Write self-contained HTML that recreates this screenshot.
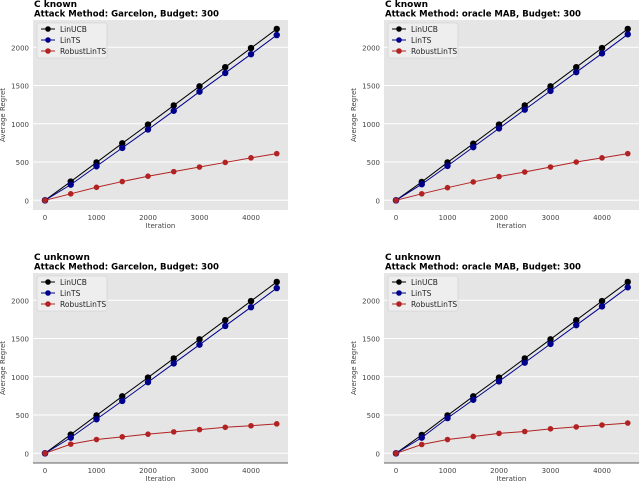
<!DOCTYPE html>
<html><head><meta charset="utf-8">
<style>
html,body{margin:0;padding:0;background:#fff;width:640px;height:482px;overflow:hidden}
svg{display:block}
text{font-family:"DejaVu Sans","Liberation Sans",sans-serif}
</style></head>
<body>
<svg id="chart" width="640" height="482" xmlns="http://www.w3.org/2000/svg"></svg>
<script>
const iterations = [0,500,1000,1500,2000,2500,3000,3500,4000,4500];
const yTicks = [0,500,1000,1500,2000];
const xTicks = [0,1000,2000,3000,4000];
const seriesNames = ["LinUCB","LinTS","RobustLinTS"];
const linucbTL = [0,245,495,745,990,1240,1490,1740,1990,2240];
const lintsTL = [0,205,445,685,925,1170,1420,1665,1910,2160];
const robustTL = [0,85,170,245,315,375,435,495,555,610];
const linucbTR = [0,240,495,740,990,1240,1490,1740,1990,2240];
const lintsTR = [0,210,450,695,940,1185,1430,1675,1920,2170];
const robustTR = [0,85,165,240,310,370,435,500,555,610];
const linucbBL = [0,245,495,745,990,1240,1490,1740,1990,2240];
const lintsBL = [0,205,445,685,930,1175,1420,1665,1910,2160];
const robustBL = [0,120,180,215,250,280,310,340,360,385];
const linucbBR = [0,240,495,745,990,1240,1490,1740,1990,2240];
const lintsBR = [0,205,460,700,940,1185,1430,1675,1920,2170];
const robustBR = [0,115,180,220,260,285,320,345,370,395];

const NS="http://www.w3.org/2000/svg";
const svg=document.getElementById('chart');
function el(tag,attrs,parent){const e=document.createElementNS(NS,tag);for(const k in attrs)e.setAttribute(k,attrs[k]);(parent||svg).appendChild(e);return e;}

const colors=["#000000","#00008b","#b22222"];
const panels=[
 {ox:0,oy:0,t1:"C known",t2:"Attack Method: Garcelon, Budget: 300",data:[linucbTL,lintsTL,robustTL],name:"panel-known-garcelon"},
 {ox:0,oy:253,t1:"C unknown",t2:"Attack Method: Garcelon, Budget: 300",data:[linucbBL,lintsBL,robustBL],name:"panel-unknown-garcelon"},
 {ox:351,oy:0,t1:"C known",t2:"Attack Method: oracle MAB, Budget: 300",data:[linucbTR,lintsTR,robustTR],name:"panel-known-oracle"},
 {ox:351,oy:253,t1:"C unknown",t2:"Attack Method: oracle MAB, Budget: 300",data:[linucbBR,lintsBR,robustBR],name:"panel-unknown-oracle"}
];

panels.forEach(p=>{
  const g=el('g',{});
  
  
  const L=33+p.ox,R=288+p.ox,T=20+p.oy,B=210+p.oy;
  const xs=v=>45+p.ox+v*(206/4000);
  const ys=v=>200.3+p.oy-v*(153/2000);
  const bg=el('rect',{x:L,y:T,width:R-L,height:B-T,fill:'#e5e5e5'},g);
  
  
  yTicks.forEach(v=>{
    el('line',{x1:L,x2:R,y1:ys(v),y2:ys(v),stroke:'#fff','stroke-width':1},g);
    const t=el('text',{x:L-4,y:ys(v)+3,'font-size':7,'text-anchor':'end',fill:'#444'},g);
    t.textContent=v;
    
    
  });
  xTicks.forEach(v=>{
    const t=el('text',{x:xs(v),y:B+10,'font-size':7,'text-anchor':'middle',fill:'#444'},g);
    t.textContent=v;
    
    
  });
  if(p.oy>0) el('line',{x1:L,x2:R,y1:B,y2:B,stroke:'#333','stroke-width':0.8},g);
  const xl=el('text',{x:(L+R)/2,y:B+18,'font-size':7,'text-anchor':'middle',fill:'#444'},g);
  xl.textContent="Iteration";
  
  
  const yl=el('text',{x:0,y:0,'font-size':7,'text-anchor':'middle',fill:'#444',transform:`translate(${p.ox+5},${(T+B)/2}) rotate(-90)`},g);
  yl.textContent="Average Regret";
  
  
  const t1=el('text',{x:L+1,y:p.oy+7,'font-size':9,'font-weight':'bold',fill:'#000'},g);
  t1.textContent=p.t1;
  
  
  const t2=el('text',{x:L+1,y:p.oy+16.5,'font-size':9,'font-weight':'bold',fill:'#000',textLength:p.ox?196:185,lengthAdjust:'spacingAndGlyphs'},g);
  t2.textContent=p.t2;
  
  
  p.data.forEach((arr,si)=>{
    const pts=iterations.map((x,i)=>xs(x)+','+ys(arr[i])).join(' ');
    const pl=el('polyline',{points:pts,fill:'none',stroke:colors[si],'stroke-width':1},g);
    
    
    iterations.forEach((x,i)=>{
      const c=el('circle',{cx:xs(x),cy:ys(arr[i]),r:si==2?2.8:3.2,fill:colors[si]},g);
      
      
    });
  });
  const lg=el('g',{},g);
  
  
  const lx=L+4,ly=T+3;
  el('rect',{x:lx,y:ly,width:70,height:35,fill:'#eeeeee',stroke:'#ccc','stroke-width':0.6,rx:2},lg);
  seriesNames.forEach((n,si)=>{
    const yy=ly+6+si*11;
    el('line',{x1:lx+4,x2:lx+18,y1:yy,y2:yy,stroke:colors[si],'stroke-width':1},lg);
    el('circle',{cx:lx+11,cy:yy,r:2.8,fill:colors[si]},lg);
    const t=el('text',{x:lx+23,y:yy+3,'font-size':7.5,fill:'#222'},lg);
    t.textContent=n;
    
    
  });
});
</script>
</body></html>
